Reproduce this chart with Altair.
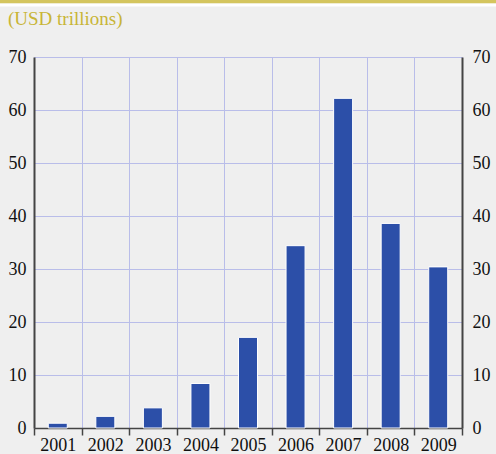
import altair as alt
import pandas as pd

years = ["2001", "2002", "2003", "2004", "2005", "2006", "2007", "2008", "2009"]
values = [0.9, 2.2, 3.8, 8.4, 17.1, 34.4, 62.2, 38.6, 30.4]
y_ticks = [0, 10, 20, 30, 40, 50, 60, 70]
unit_label = "(USD trillions)"

df = pd.DataFrame({"year": years, "value": values})

FONT = "Liberation Serif"
GRID = "#b9bde9"
AXIS = "#444444"

xenc = alt.X(
    "year:N",
    title=None,
    sort=years,
    scale=alt.Scale(paddingInner=0, paddingOuter=0),
    axis=alt.Axis(
        tickBand="extent",
        grid=True,
        gridColor=GRID,
        gridWidth=1,
        labelAngle=0,
        labelFont=FONT,
        labelFontSize=18,
        labelColor="#111111",
        domain=True,
        domainColor=AXIS,
        domainWidth=1.5,
        tickColor=AXIS,
        tickWidth=1.5,
        tickSize=7,
        labelPadding=1,
    ),
)

base = alt.Chart(df)

bars = base.mark_bar(width=19, color="#2c4fa8", stroke="white", strokeWidth=1).encode(
    x=xenc,
    y=alt.Y(
        "value:Q",
        title=None,
        scale=alt.Scale(domain=[0, 70], nice=False),
        axis=alt.Axis(
            orient="left",
            values=y_ticks,
            grid=True,
            gridColor=GRID,
            ticks=False,
            domainColor=AXIS,
            domainWidth=2,
            labelFont=FONT,
            labelFontSize=18,
            labelColor="#111111",
            labelPadding=8,
        ),
    ),
)

right = base.mark_bar(width=19, opacity=0).encode(
    x=xenc,
    y=alt.Y(
        "value:Q",
        title=None,
        scale=alt.Scale(domain=[0, 70], nice=False),
        axis=alt.Axis(
            orient="right",
            values=y_ticks,
            grid=False,
            ticks=False,
            domainColor=AXIS,
            domainWidth=2,
            labelFont=FONT,
            labelFontSize=18,
            labelColor="#111111",
            labelPadding=10,
        ),
    ),
)

one = pd.DataFrame({"t": [unit_label]})

gold = alt.Chart(one).mark_rect(color="#d4c55e").encode(
    x=alt.value(-34), x2=alt.value(462), y=alt.value(-57), y2=alt.value(-53.5)
)
white = alt.Chart(one).mark_rect(color="#ffffff").encode(
    x=alt.value(-34), x2=alt.value(462), y=alt.value(-53.5), y2=alt.value(-50.5)
)
title = alt.Chart(one).mark_text(
    font=FONT, fontSize=19, color="#c8b536", align="left", baseline="alphabetic"
).encode(text="t:N", x=alt.value(-26), y=alt.value(-32))

chart = (
    alt.layer(bars, right, gold, white, title)
    .resolve_axis(y="independent")
    .properties(
        width=428,
        height=371,
        autosize=alt.AutoSizeParams(type="none"),
        padding={"left": 34, "top": 57, "right": 34, "bottom": 26},
        background="#efefef",
    )
    .configure_view(stroke=None)
)

chart.save("out.html", embed_options={"renderer": "svg", "actions": False})
